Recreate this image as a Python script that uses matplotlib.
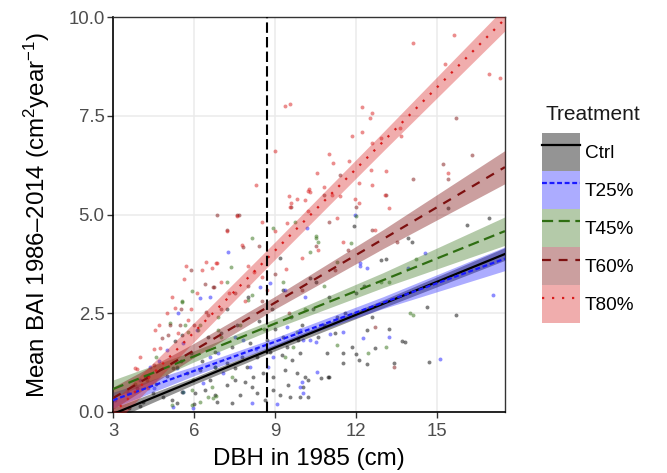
import numpy as np
import matplotlib
matplotlib.use('Agg')
import matplotlib.pyplot as plt
from matplotlib.patches import Patch
from matplotlib.lines import Line2D
from matplotlib.legend_handler import HandlerTuple

plt.rcParams['font.family'] = ['Liberation Sans', 'DejaVu Sans']
plt.rcParams['mathtext.fontset'] = 'custom'
plt.rcParams['mathtext.rm'] = 'Liberation Sans'
plt.rcParams['mathtext.it'] = 'Liberation Sans:italic'

# ---------------- data ----------------
treatments = ['Ctrl', 'T25%', 'T45%', 'T60%', 'T80%']

ctrl_x = [5.37, 5.19, 6.85, 6.78, 7.40, 7.70, 8.33, 8.15, 8.63, 8.93, 9.19, 9.56, 9.48, 9.93,
          10.04, 10.10, 9.80, 9.37, 8.93, 8.56, 8.19, 7.89, 7.52, 7.22, 6.59, 6.41, 6.04, 5.56,
          4.85, 4.48, 4.11, 7.52, 7.96, 8.33, 8.81, 9.26, 9.44, 9.63, 9.93, 7.78, 7.22, 6.78,
          6.22, 5.74, 5.22, 6.78, 7.41, 8.07, 8.70, 9.30, 9.85, 9.19, 10.20, 9.30, 10.30, 10.50,
          11.00, 11.30, 10.80, 11.60, 12.00, 12.30, 12.90, 13.10, 13.90, 14.05, 11.90, 15.40,
          16.10, 16.90, 14.60, 15.70, 14.70, 13.40, 13.80, 12.70, 12.40, 12.40, 12.10, 12.00,
          11.50, 11.85, 11.00, 10.70, 10.20, 11.20, 12.60, 13.20, 10.60, 10.90, 11.50, 13.70,
          10.96, 4.00, 4.60, 5.00, 5.50, 5.90, 6.30, 6.00, 3.60, 4.30, 7.00, 7.60, 8.40, 8.90,
          9.60, 10.00, 10.40, 9.00, 6.50, 5.30, 8.00, 7.20, 5.56]
ctrl_y = [0.23, 0.30, 0.25, 0.43, 0.23, 0.43, 0.48, 0.63, 0.30, 0.56, 0.43, 0.38, 0.68, 0.38,
          0.63, 0.89, 0.99, 1.06, 0.89, 0.99, 0.89, 0.76, 0.81, 0.68, 0.81, 0.56, 0.48, 0.51,
          0.38, 0.48, 0.25, 1.11, 1.14, 1.39, 1.52, 1.44, 1.65, 1.32, 1.49, 1.39, 1.24, 1.14,
          1.06, 0.99, 1.11, 1.52, 1.65, 1.75, 1.82, 1.90, 1.82, 3.90, 0.38, 3.10, 3.40, 3.30,
          2.90, 2.40, 2.20, 2.50, 3.00, 3.20, 3.85, 3.87, 4.40, 4.30, 4.70, 5.16,
          4.73, 4.90, 2.66, 2.46, 1.27, 1.24, 1.78, 1.62, 2.08, 1.22, 1.32, 1.47,
          1.24, 1.65, 0.89, 0.86, 0.81, 2.00, 2.40, 2.10, 1.90, 1.50, 1.50, 1.80,
          0.89, 0.15, 0.70, 0.90, 1.30, 1.50, 1.30, 0.20, 0.10, 0.90, 2.00, 2.20, 2.30, 2.60,
          2.40, 2.20, 2.60, 2.10, 1.90, 1.80, 2.90, 2.60, 1.95]

t25_x = [7.26, 5.41, 6.60, 6.10, 5.59, 5.00, 5.37, 5.60, 5.96, 5.22, 6.33, 7.07, 8.07, 8.15,
         9.07, 8.74, 8.93, 9.93, 10.04, 9.44, 10.04, 9.93, 7.81, 6.60, 6.22, 4.37, 4.00, 3.56,
         3.07, 11.96, 12.15, 12.40, 14.55, 13.90, 17.07, 15.10, 13.20, 12.25, 11.50, 11.04,
         10.50, 10.10, 10.00, 10.56, 10.30, 12.15, 8.44, 8.80, 9.37, 10.19, 4.70, 7.50, 8.30,
         6.90, 4.50]
t25_y = [4.05, 2.50, 2.92, 2.08, 1.75, 1.57, 1.11, 0.51, 0.10, 0.13, 0.73, 0.99, 1.14, 0.23,
         0.20, 1.14, 1.39, 0.63, 0.48, 2.16, 1.82, 2.08, 1.82, 1.39, 2.89, 1.14, 0.81, 0.48,
         0.30, 4.99, 3.77, 3.64, 4.03, 3.64, 2.96, 1.34, 1.90, 1.87, 2.03, 1.97,
         1.77, 2.90, 0.76, 1.01, 1.82, 3.70, 3.17, 3.26, 3.08, 4.66, 1.30, 1.90, 1.60,
         1.50, 0.60]

t45_x = [5.93, 8.15, 7.37, 9.74, 10.30, 10.50, 10.60, 14.10, 14.00, 11.30, 12.45, 13.10, 12.90,
         13.20, 10.50, 11.80, 12.00, 14.20, 5.56, 6.22, 5.78, 6.89, 6.90, 7.70, 8.00, 8.15, 7.22,
         8.93, 6.70, 6.80, 5.93, 5.19, 7.00, 7.40, 9.37, 9.67, 9.80, 5.56, 5.10, 5.67, 6.15,
         6.52, 6.22, 5.93, 5.59, 6.67, 5.96, 6.78, 5.37, 9.30, 10.80, 11.30, 4.20, 3.80, 4.60,
         8.60, 10.10]
t45_y = [3.06, 4.40, 3.67, 4.80, 4.05, 4.45, 4.30, 2.46, 2.50, 1.70, 1.49, 1.65, 3.30,
         3.30, 4.40, 4.28, 4.96, 3.87, 2.79, 2.20, 2.03, 2.08, 2.40, 2.20, 2.84, 2.96, 3.29,
         4.66, 0.35, 0.40, 0.56, 0.18, 1.90, 0.89, 1.39, 1.65, 2.03, 2.81, 2.25, 2.20, 2.08,
         0.38, 0.25, 0.18, 0.51, 0.63, 0.81, 1.14, 1.14, 3.30, 3.20, 3.80, 0.90, 0.70, 1.40,
         2.10, 2.60]

t60_x = [6.85, 6.40, 6.74, 7.60, 7.65, 7.20, 7.80, 5.04, 4.80, 5.48, 5.10, 4.26, 6.70, 6.44,
         6.50, 5.50, 6.00, 7.00, 7.50, 8.00, 8.50, 9.00, 9.50, 10.00, 10.50, 11.00, 11.20, 11.70,
         12.00, 12.60, 13.10, 13.50, 14.10, 15.20, 15.70, 15.40, 16.30, 12.70, 13.40, 8.40, 5.90,
         9.60, 10.80, 11.40, 3.90, 4.50]
t60_y = [5.00, 3.24, 3.16, 5.00, 4.98, 4.60, 4.18, 1.95, 1.87, 2.20, 2.20, 0.81, 3.16, 2.53,
         2.45, 2.60, 2.20, 2.60, 3.00, 3.20, 2.80, 3.50, 2.50, 3.10, 4.20, 4.80, 3.60, 4.10,
         5.20, 4.60, 5.50, 4.30, 5.90, 6.28, 7.44, 5.90, 6.50, 2.15, 1.14, 4.20, 3.60,
         5.20, 5.50, 6.00, 0.60, 1.20]

t80_x = [5.70, 5.63, 6.44, 6.80, 6.67, 7.20, 7.60, 8.30, 8.50, 9.00, 9.00, 9.37, 9.55, 9.44,
         9.50, 9.55, 9.58, 9.80, 10.20, 10.10, 10.20, 10.30, 7.78, 6.85, 8.00, 8.20, 8.50, 9.40,
         10.55, 10.25, 10.80, 11.00, 11.15, 11.75, 11.10, 11.40, 11.30, 11.85, 12.20, 12.20,
         12.60, 12.50, 12.60, 12.90, 13.60, 13.65, 12.55, 13.10, 11.96, 12.10, 12.10, 12.60,
         13.05, 13.20, 15.40, 14.10, 15.60, 15.30, 16.90, 17.30, 4.00, 4.50, 5.20, 5.00, 4.70,
         5.90, 6.10, 7.00, 7.30, 6.30, 5.40, 3.90, 4.30, 7.90, 8.70, 10.00, 10.60, 11.50, 12.70,
         4.56, 4.74, 3.81, 5.30, 5.78]
t80_y = [3.70, 3.37, 3.80, 3.77, 3.64, 4.58, 4.96, 5.75, 4.80, 4.58, 6.60, 7.75, 7.80, 4.79,
         5.47, 5.20, 5.30, 5.40, 5.60, 5.37, 5.10, 5.57, 4.22, 3.77, 3.70, 3.55, 3.42, 3.62,
         6.05, 5.65, 5.70, 6.53, 6.30, 6.36, 5.50, 5.47, 4.90, 7.00, 7.10, 7.72,
         7.57, 7.44, 6.80, 6.93, 7.20, 7.00, 6.13, 6.10, 5.39, 5.80, 5.30, 5.75,
         5.50, 5.16, 6.05, 9.34, 9.54, 8.80, 8.56, 8.45, 1.40, 1.60, 2.90, 2.50, 2.20,
         2.60, 3.00, 3.30, 3.00, 3.60, 2.00, 1.10, 0.60, 2.80, 3.10, 3.90, 4.10, 4.30, 4.60,
         2.08, 1.62, 1.11, 2.63, 2.33]

# fitted lines and confidence half-widths at these DBH values
fit_x = [3.0, 6.0, 9.0, 13.0, 17.5]
ctrl_fit = [-0.05, 0.79, 1.63, 2.74, 4.00]
t25_fit = [0.30, 1.04, 1.78, 2.77, 3.88]
t45_fit = [0.58, 1.41, 2.24, 3.34, 4.58]
t60_fit = [0.35, 1.56, 2.77, 4.38, 6.20]
t80_fit = [-0.05, 2.02, 4.09, 6.85, 9.95]
ctrl_ci = [0.15, 0.09, 0.08, 0.10, 0.16]
t25_ci = [0.20, 0.12, 0.10, 0.15, 0.30]
t45_ci = [0.23, 0.14, 0.12, 0.19, 0.36]
t60_ci = [0.28, 0.18, 0.16, 0.24, 0.42]
t80_ci = [0.30, 0.24, 0.22, 0.24, 0.30]

dbh_cutoff = 8.7

# ---------------- styles ----------------
colors = ['#000000', '#1a1aff', '#2f6e12', '#7d1010', '#d81c1c']
band_alpha = [0.42, 0.36, 0.36, 0.40, 0.36]
styles = ['-', (0, (2.2, 1.2)), (0, (5, 2.5)), (0, (4, 3.5)), (0, (1, 3.5))]

pts_x = [ctrl_x, t25_x, t45_x, t60_x, t80_x]
pts_y = [ctrl_y, t25_y, t45_y, t60_y, t80_y]
fits = [ctrl_fit, t25_fit, t45_fit, t60_fit, t80_fit]
cis = [ctrl_ci, t25_ci, t45_ci, t60_ci, t80_ci]

fig = plt.figure(figsize=(6.67, 4.73), dpi=100)
ax = fig.add_axes([0.1694, 0.129, 0.5876, 0.835])

for i in range(5):
    ax.scatter(pts_x[i], pts_y[i], s=8, color=colors[i], alpha=0.5, lw=0, zorder=2)

fx = np.array(fit_x)
for i in range(5):
    f = np.array(fits[i])
    c = np.array(cis[i])
    ax.fill_between(fx, f - c, f + c, color=colors[i], alpha=band_alpha[i], lw=0, zorder=3)
for i in range(5):
    ax.plot(fx, fits[i], color=colors[i], ls=styles[i], lw=1.6, zorder=4)

ax.axvline(dbh_cutoff, color='black', ls=(0, (5, 2)), lw=1.5, zorder=5)

ax.set_xlim(3, 17.5)
ax.set_ylim(0, 10)
ax.set_xticks([3, 6, 9, 12, 15])
ax.set_yticks([0, 2.5, 5, 7.5, 10])
ax.set_yticklabels(['0.0', '2.5', '5.0', '7.5', '10.0'])
ax.grid(True, color='#ebebeb', lw=1.1, zorder=0)
ax.set_axisbelow(True)
for s in ['top', 'right']:
    ax.spines[s].set_color('#333333')
    ax.spines[s].set_linewidth(1.0)
for s in ['left', 'bottom']:
    ax.spines[s].set_color('black')
    ax.spines[s].set_linewidth(1.2)
ax.tick_params(direction='out', length=4, width=1.0, color='#333333',
               labelcolor='#4d4d4d', labelsize=13.4)
ax.tick_params(axis='x', pad=4)
ax.tick_params(axis='y', pad=2)

ax.set_xlabel('DBH in 1985 (cm)', fontsize=17.4, labelpad=6)
ax.set_ylabel(r'Mean BAI 1986–2014 (cm$^{2}$year$^{-1}$)', fontsize=17.4, labelpad=12)

handles = []
for i in range(5):
    p = Patch(facecolor=colors[i], alpha=band_alpha[i], lw=0)
    l = Line2D([], [], color=colors[i], ls=styles[i], lw=1.6)
    handles.append((p, l))
fig.text(545 / 667, 1 - 105 / 473, 'Treatment', fontsize=15, color='#1a1a1a',
         ha='left', va='top')
leg = fig.legend(handles, treatments, handler_map={tuple: HandlerTuple(ndivide=1)},
                 loc='upper left', bbox_to_anchor=(542 / 667, 1 - 133 / 473), frameon=False,
                 fontsize=13.7, handlelength=2.0, handleheight=2.7, labelspacing=0.0,
                 handletextpad=0.25, borderpad=0, borderaxespad=0)

fig.savefig('out.png', dpi=100)
